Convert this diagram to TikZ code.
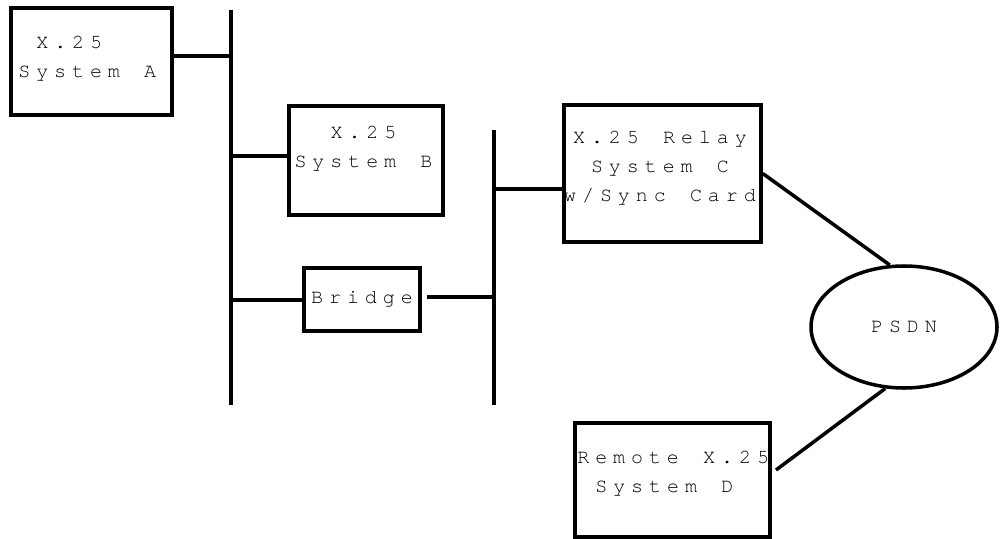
\documentclass[tikz,border=0pt]{standalone}
\usepackage{fontspec}
\usepackage{tikz}
\usetikzlibrary{shapes.geometric}
\newfontfamily\monoset{texgyrecursor-regular.otf}[LetterSpace=29.5,WordSpace=1.35]
\newcommand{\monotext}{\monoset\fontsize{11.4}{16.4}\selectfont}
\newcommand{\indentone}{\hspace*{0.9em}}

\begin{document}
\begin{tikzpicture}[scale=1,
  box/.style={draw, line width=2pt, inner sep=0pt},
  txt/.style={font=\monotext, inner sep=0pt},
  wire/.style={line width=2pt}]
\useasboundingbox (0,0) rectangle (20,10.76);
% the systems
\node[box, minimum width=3.22cm, minimum height=2.14cm] (sysA) at (1.83,9.53) {};
\node[txt, align=left, anchor=west] (sysAtext) at (0.36,9.58) {\indentone X.25\\System A};
\node[box, minimum width=3.08cm, minimum height=2.18cm] (sysB) at (7.32,7.55) {};
\node[txt, align=center] (sysBtext) at (7.27,7.79) {X.25\\System B};
\node[box, minimum width=2.32cm, minimum height=1.26cm, font=\monotext] (bridge) at (7.24,4.77) {Bridge};
\node[box, minimum width=3.94cm, minimum height=2.74cm] (sysC) at (13.25,7.29) {};
\node[txt, align=center] (sysCtext) at (13.2,7.4) {X.25 Relay\\System C\\w/Sync Card};
\node[box, minimum width=3.90cm, minimum height=2.28cm] (sysD) at (13.45,1.16) {};
\node[txt, align=left, anchor=west] (sysDtext) at (11.54,1.28) {Remote X.25\\\indentone System D};
\node[box, ellipse, minimum width=3.72cm, minimum height=2.44cm, font=\monotext] (psdn) at (18.08,4.22) {PSDN};
% the two lans
\coordinate (lanAtop) at (4.62,10.56);
\coordinate (lanAbot) at (4.62,2.66);
\coordinate (lanBtop) at (9.88,8.16);
\coordinate (lanBbot) at (9.88,2.66);
\draw[wire] (lanAtop) -- (lanAbot);
\draw[wire] (lanBtop) -- (lanBbot);
% taps
\coordinate (tapA) at (4.62,9.64);
\coordinate (tapB) at (4.62,7.64);
\coordinate (tapBridgeA) at (4.62,4.76);
\coordinate (tapBridgeB) at (9.88,4.82);
\coordinate (tapC) at (9.88,6.98);
\coordinate (portD) at (15.52,1.36);
\draw[wire] (tapA -| sysA.east) -- (tapA);
\draw[wire] (tapB) -- (tapB -| sysB.west);
\draw[wire] (tapBridgeA) -- (tapBridgeA -| bridge.west);
\draw[wire, shorten <=1mm] (tapBridgeB -| bridge.east) -- (tapBridgeB);
\draw[wire] (tapC) -- (tapC -| sysC.west);
\draw[wire] (sysC.east) -- (psdn.103);
\draw[wire] (portD) -- (psdn.253);
\end{tikzpicture}
\end{document}
